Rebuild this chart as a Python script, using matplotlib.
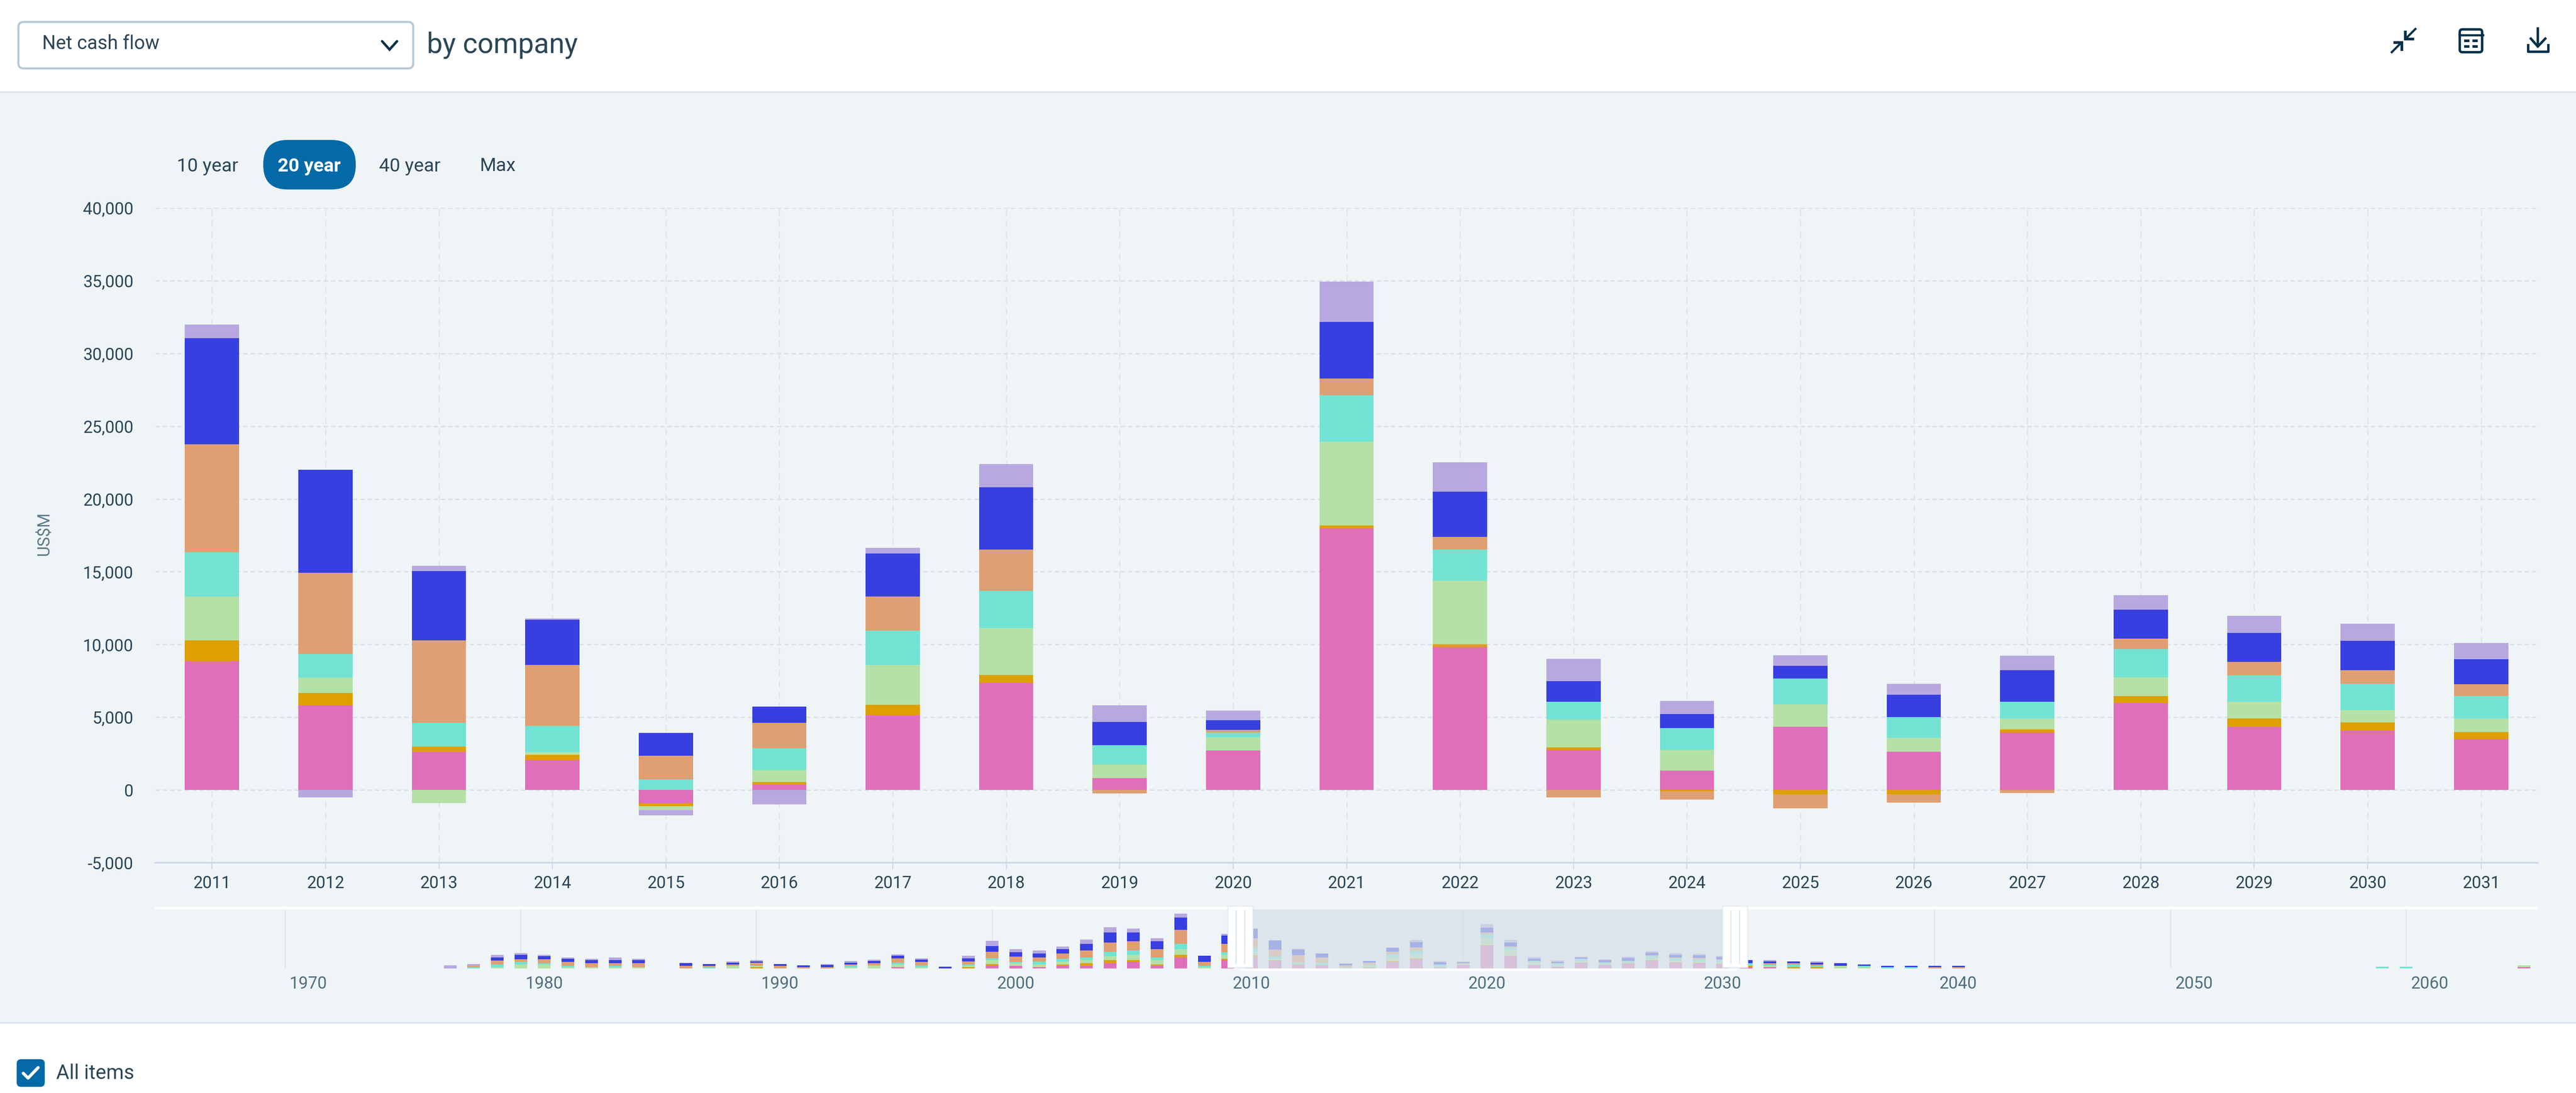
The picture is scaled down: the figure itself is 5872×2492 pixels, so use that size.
import matplotlib
matplotlib.use('Agg')
import matplotlib.pyplot as plt
from matplotlib.patches import FancyBboxPatch, Rectangle
from matplotlib.ticker import FuncFormatter

plt.rcParams['font.family'] = ['Roboto', 'DejaVu Sans']

W, H = 5872, 2492
COMPANIES = ['pink', 'gold', 'green', 'teal', 'tan', 'blue', 'lilac']
COLORS = {'pink': '#e06fba', 'gold': '#de9f00', 'green': '#b5e0a6', 'teal': '#72e3d3',
          'tan': '#df9f72', 'blue': '#373fe0', 'lilac': '#b7a9e0'}
DARK = '#2b4657'
ICON = '#05304a'
BLUE = '#046aa7'

# Net cash flow, US$M, per company in the order of COMPANIES
selected = {
    2011: [8857, 1426, 3015, 3042, 7403, 7297, 940],
    2012: [5815, 861, 1050, 1615, 5573, 7106, -511],
    2013: [2611, 377, -888, 1615, 5680, 4765, 350],
    2014: [2046, 377, 161, 1831, 4172, 3123, 81],
    2015: [-915, -189, -269, 727, 1615, 1588, -377],
    2016: [350, 188, 835, 1507, 1723, 1131, -996],
    2017: [5169, 673, 2745, 2343, 2368, 2962, 377],
    2018: [7349, 539, 3230, 2557, 2854, 4280, 1588],
    2019: [808, 0, 942, 1319, -242, 1615, 1131],
    2020: [2719, 0, 915, 323, 162, 673, 673],
    2021: [17956, 215, 5761, 3203, 1131, 3904, 2772],
    2022: [9826, 188, 4361, 2154, 861, 3123, 1992],
    2023: [2734, 202, 1900, 1212, -498, 1441, 1537],
    2024: [1320, -94, 1414, 1523, -579, 956, 900],
    2025: [4351, -296, 1522, 1791, -957, 862, 740],
    2026: [2640, -296, 956, 1415, -580, 1522, 768],
    2027: [3960, 216, 754, 1118, -202, 2196, 990],
    2028: [5967, 472, 1320, 1912, 741, 1994, 984],
    2029: [4351, 579, 1131, 1805, 943, 1994, 1159],
    2030: [4081, 553, 848, 1805, 943, 2007, 1200],
    2031: [3489, 485, 956, 1509, 835, 1724, 1100],
}

# Years outside the selected range, only seen in the navigator
others = {
    1977: [0, 0, 0, 0, 0, 0, 2300],
    1978: [0, 0, 0, 1035, 1150, 0, 1150],
    1979: [0, 0, 1035, 2070, 3105, 2300, 2290],
    1980: [0, 0, 3105, 2185, 2070, 3450, 1150],
    1981: [0, 0, 3105, 1150, 3105, 2300, 1150],
    1982: [0, 0, 1035, 1150, 2875, 2530, 920],
    1983: [0, 0, 1035, 0, 3105, 2300, 1265],
    1984: [0, 0, 1035, 1150, 1955, 2300, 2300],
    1985: [0, 0, 1035, 0, 3105, 2300, 1265],
    1987: [0, 0, 0, 0, 2070, 2070, 345],
    1988: [0, 0, 0, 1035, 1035, 1265, 0],
    1989: [0, 0, 2070, 0, 1035, 1265, 1150],
    1990: [0, 1035, 1035, 0, 2300, 1150, 1035],
    1991: [0, 0, 0, 0, 2070, 1265, 0],
    1992: [0, 0, 0, 0, 1165, 1165, 0],
    1993: [0, 0, 0, 0, 1165, 1735, 600],
    1994: [0, 0, 1165, 1165, 820, 1510, 1165],
    1995: [0, 0, 2330, 0, 1970, 1525, 935],
    1996: [1165, 0, 1985, 1280, 3370, 2300, 970],
    1997: [0, 0, 1165, 1165, 2910, 1520, 1040],
    1998: [0, 0, 0, 0, 0, 1400, 0],
    1999: [0, 1165, 835, 1260, 2215, 2325, 2335],
    2000: [2330, 1050, 3260, 1160, 5360, 4540, 4200],
    2001: [2185, 0, 2070, 1035, 4140, 3450, 2300],
    2002: [1035, 0, 2070, 2300, 3105, 3220, 2300],
    2003: [2070, 1035, 2300, 2185, 4140, 3450, 2185],
    2004: [2070, 2185, 2185, 2070, 5520, 5405, 3450],
    2005: [4255, 2185, 3220, 3450, 7475, 7705, 4370],
    2006: [5290, 1150, 4370, 3220, 7590, 6670, 3220],
    2007: [2070, 1035, 3335, 2070, 6555, 6555, 2185],
    2008: [8510, 2300, 4255, 4370, 10925, 9775, 3220],
    2009: [0, 0, 1035, 1035, 3220, 4600, 0],
    2010: [6440, 1150, 3220, 2070, 6555, 6555, 1265],
    2032: [1035, 1150, 0, 2070, 0, 2185, 0],
    2033: [1035, 0, 1035, 1035, 1150, 1150, 1035],
    2034: [0, 1035, 0, 2070, 1150, 1150, 0],
    2035: [0, 1035, 0, 1035, 1035, 1380, 920],
    2036: [0, 0, 2070, 0, 0, 2185, 0],
    2037: [0, 0, 1035, 1035, 0, 1150, 0],
    2038: [0, 0, 0, 1035, 0, 1150, 0],
    2039: [0, 0, 0, 1035, 0, 1150, 0],
    2040: [0, 0, 0, 0, 1035, 1150, 0],
    2041: [0, 0, 0, 0, 1035, 1150, 0],
    2059: [0, 0, 0, 1400, 0, 0, 0],
    2060: [0, 0, 0, 1400, 0, 0, 0],
    2065: [900, 0, 1500, 0, 0, 0, 0],
}


def px_axes(fig, left, top, right, bottom):
    return fig.add_axes([left / W, 1 - bottom / H, (right - left) / W, (bottom - top) / H])


def stacked_bars(ax, data, width, negatives=True):
    years = sorted(data)
    pos = [0] * len(years)
    neg = [0] * len(years)
    for c, name in enumerate(COMPANIES):
        for i, year in enumerate(years):
            v = data[year][c]
            if v >= 0:
                ax.bar(year, v, width, bottom=pos[i], color=COLORS[name], zorder=3, linewidth=0)
                pos[i] += v
            elif negatives:
                ax.bar(year, v, width, bottom=neg[i], color=COLORS[name], zorder=3, linewidth=0)
                neg[i] += v


fig = plt.figure(figsize=(W / 100, H / 100), dpi=100, facecolor='white')

# --- Page furniture behind the charts ---
bg = fig.add_axes([0, 0, 1, 1], zorder=0)
bg.set_xlim(0, W)
bg.set_ylim(H, 0)
bg.axis('off')
bg.add_patch(Rectangle((0, 210), W, 2122, facecolor='#eff4f7', edgecolor='none'))
bg.plot([0, W], [210, 210], color='#dce6eb', lw=3)
bg.plot([0, W], [2332, 2332], color='#dce6eb', lw=3)

bg.add_patch(FancyBboxPatch((42, 50), 900, 106, boxstyle='round,pad=0,rounding_size=12',
                            facecolor='white', edgecolor='#b5cad6', lw=3.5))
bg.text(96, 100, 'Net cash flow', fontsize=31.5, color=DARK, va='center', ha='left')
bg.plot([871, 888, 905], [94, 113, 94], color=ICON, lw=4, solid_capstyle='round', solid_joinstyle='miter')
bg.text(973, 103, 'by company', fontsize=46, color=DARK, va='center', ha='left')

bg.add_patch(FancyBboxPatch((600, 319), 211, 113, boxstyle='round,pad=0,rounding_size=56',
                            facecolor=BLUE, edgecolor='none'))
bg.text(473, 379, '10 year', fontsize=31, color=DARK, va='center', ha='center')
bg.text(705, 379, '20 year', fontsize=31, color='white', va='center', ha='center', fontweight='bold')
bg.text(934, 379, '40 year', fontsize=31, color=DARK, va='center', ha='center')
bg.text(1135, 379, 'Max', fontsize=31, color=DARK, va='center', ha='center')

bg.text(101, 1217, 'US$M', fontsize=27, color='#5b7a8a', rotation=90, va='center', ha='center')

# Collapse icon
bg.plot([5452, 5472], [119, 99], color=ICON, lw=3.5)
bg.plot([5459, 5475, 5475], [97, 97, 113], color=ICON, lw=4.5, solid_joinstyle='miter')
bg.plot([5506, 5486], [66, 86], color=ICON, lw=3.5)
bg.plot([5483, 5483, 5500], [73, 89, 89], color=ICON, lw=4.5, solid_joinstyle='miter')
# Table icon
bg.add_patch(FancyBboxPatch((5607, 67), 51, 52, boxstyle='round,pad=0,rounding_size=6',
                            facecolor='none', edgecolor=ICON, lw=4))
bg.plot([5606, 5660], [80, 80], color=ICON, lw=3.5)
for dx in (5617, 5636):
    for dy in (90, 103):
        bg.add_patch(Rectangle((dx, dy), 12, 6, facecolor=ICON, edgecolor='none'))
# Download icon
bg.plot([5785, 5785], [65, 105], color=ICON, lw=4)
bg.plot([5769, 5785, 5802], [88, 106, 88], color=ICON, lw=4, solid_joinstyle='miter')
bg.plot([5763, 5763, 5809, 5809], [103, 118, 118, 103], color=ICON, lw=4, solid_joinstyle='round')

# All items checkbox
bg.add_patch(FancyBboxPatch((38, 2415), 64, 63, boxstyle='round,pad=0,rounding_size=10',
                            facecolor=BLUE, edgecolor='none'))
bg.plot([53, 64, 87], [2447, 2458, 2434], color='white', lw=5, solid_capstyle='round')
bg.text(128, 2447, 'All items', fontsize=33, color=DARK, va='center', ha='left')

# --- Main chart ---
ax = px_axes(fig, 354, 474, 5785, 1967)
ax.set_zorder(1)
ax.patch.set_alpha(0)
stacked_bars(ax, selected, 0.478)
ax.set_xlim(2010.5, 2031.5)
ax.set_ylim(-5000, 40000)
ax.set_yticks(range(-5000, 40001, 5000))
ax.yaxis.set_major_formatter(FuncFormatter(lambda v, _: f'{int(v):,}'))
ax.set_xticks(sorted(selected))
ax.grid(True, axis='y', color='#d8e3e9', linestyle=(0, (3, 2)), linewidth=2.4, zorder=1)
ax.grid(True, axis='x', color='#dfe4e9', linestyle=(0, (6, 4)), linewidth=1.8, zorder=1)
for side in ('top', 'right', 'left'):
    ax.spines[side].set_visible(False)
ax.spines['bottom'].set_color('#ccd6eb')
ax.spines['bottom'].set_linewidth(2.6)
ax.tick_params(axis='y', length=0, pad=36, labelsize=27.5, labelcolor=DARK)
ax.tick_params(axis='x', length=10.8, width=1.6, color='#ccd6eb', pad=10, labelsize=27.5, labelcolor=DARK)
for label in ax.get_yticklabels():
    label.set_verticalalignment('center_baseline')

# --- Navigator ---
nav = px_axes(fig, 354, 2073, 5785, 2208)
nav.set_zorder(1)
nav.patch.set_alpha(0)
stacked_bars(nav, {**others, **selected}, 0.54, negatives=False)
nav.set_xlim(1964.49, 2065.59)
nav.set_ylim(0, 46710)
nav.set_yticks([])
nav.set_xticks(range(1970, 2061, 10))
nav.grid(True, axis='x', color='#e0e4e8', linewidth=1.6, zorder=1)
nav.tick_params(axis='x', length=0, labelbottom=False)
for side in nav.spines:
    nav.spines[side].set_visible(False)
for year in range(1970, 2061, 10):
    nav.text(year + 0.99, -0.265, str(year), transform=nav.get_xaxis_transform(),
             fontsize=27.5, color='#4f6f80', va='center', ha='center')
nav.axvspan(2010.5, 2031.5, facecolor='#d4e0e7', alpha=0.72, edgecolor='none', zorder=4)

# --- Navigator frame and handles on top ---
top = fig.add_axes([0, 0, 1, 1], zorder=2)
top.set_xlim(0, W)
top.set_ylim(H, 0)
top.axis('off')
top.patch.set_alpha(0)
top.add_patch(Rectangle((354, 2067), 2445, 6, facecolor='white', edgecolor='none'))
top.add_patch(Rectangle((3984, 2067), 1801, 6, facecolor='white', edgecolor='none'))
top.add_patch(Rectangle((2826, 2208), 1134, 6, facecolor='white', edgecolor='none'))
for hx in (2799, 3927):
    top.add_patch(Rectangle((hx, 2066), 57, 140, facecolor='white', edgecolor='#e2eaef', lw=1.5))
    for lx in (hx + 18, hx + 38):
        top.plot([lx, lx], [2076, 2196], color='#e2eaef', lw=2.2)

fig.savefig('out.png', dpi=100, facecolor='white')
